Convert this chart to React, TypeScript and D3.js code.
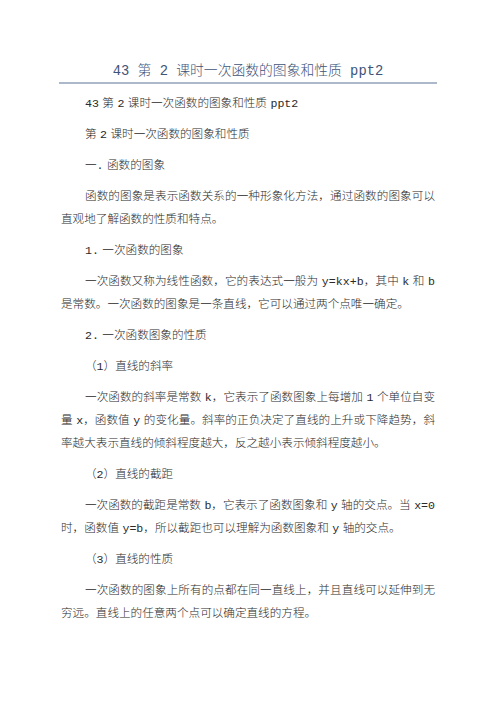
import React from "react";
import * as d3 from "d3";

const title = "43 第 2 课时一次函数的图象和性质 ppt2";

// Paragraphs of the page, each as its wrapped lines
const paraTexts: string[][] = [
  ["43 第 2 课时一次函数的图象和性质 ppt2"],
  ["第 2 课时一次函数的图象和性质"],
  ["一. 函数的图象"],
  ["函数的图象是表示函数关系的一种形象化方法，通过函数的图象可以", "直观地了解函数的性质和特点。"],
  ["1. 一次函数的图象"],
  ["一次函数又称为线性函数，它的表达式一般为 y=kx+b，其中 k 和 b", "是常数。一次函数的图象是一条直线，它可以通过两个点唯一确定。"],
  ["2. 一次函数图象的性质"],
  ["（1）直线的斜率"],
  ["一次函数的斜率是常数 k，它表示了函数图象上每增加 1 个单位自变", "量 x，函数值 y 的变化量。斜率的正负决定了直线的上升或下降趋势，斜", "率越大表示直线的倾斜程度越大，反之越小表示倾斜程度越小。"],
  ["（2）直线的截距"],
  ["一次函数的截距是常数 b，它表示了函数图象和 y 轴的交点。当 x=0", "时，函数值 y=b，所以截距也可以理解为函数图象和 y 轴的交点。"],
  ["（3）直线的性质"],
  ["一次函数的图象上所有的点都在同一直线上，并且直线可以延伸到无", "穷远。直线上的任意两个点可以确定直线的方程。"],
];

const W = 496;
const H = 702;
const left = 61;
const indent = 85;
const right = 435;
const top = 103;
const paraGap = 31;
const lineGap = 23;

type Line = { text: string; y: number; x: number; justify: boolean };

const lines: Line[] = [];
let y = top;
paraTexts.forEach((p, pi) => {
  if (pi > 0) y += paraGap;
  p.forEach((t, li) => {
    if (li > 0) y += lineGap;
    lines.push({ text: t, y, x: li === 0 ? indent : left, justify: li < p.length - 1 });
  });
});

const fontFamily = "'Liberation Mono', 'Noto Sans CJK SC', sans-serif";

export default function App() {
  const xScale = d3.scaleLinear().domain([0, W]).range([0, W]);
  return (
    <svg width={W} height={H} style={{ position: "absolute", left: 0, top: 0, background: "#fff" }}>
      <rect width={W} height={H} fill="#fff" />
      <text x={xScale(248)} y={71} textAnchor="middle" dominantBaseline="central" fontSize={13.8} fill="#3e5478" fontFamily={fontFamily} fontWeight={300}>
        {title}
      </text>
      <line x1={xScale(59)} x2={xScale(437)} y1={83} y2={83} stroke="#5a7596" strokeWidth={1.2} />
      {lines.map((l, i) => (
        <text
          key={i}
          x={xScale(l.x)}
          y={l.y}
          dominantBaseline="central"
          fontSize={11.6}
          fill="#2a2a2a"
          fontFamily={fontFamily}
          fontWeight={300}
          style={{ wordSpacing: "-3.5px" }}
          {...(l.justify ? { textLength: right - l.x, lengthAdjust: "spacing" } : {})}
        >
          {l.text}
        </text>
      ))}
    </svg>
  );
}
